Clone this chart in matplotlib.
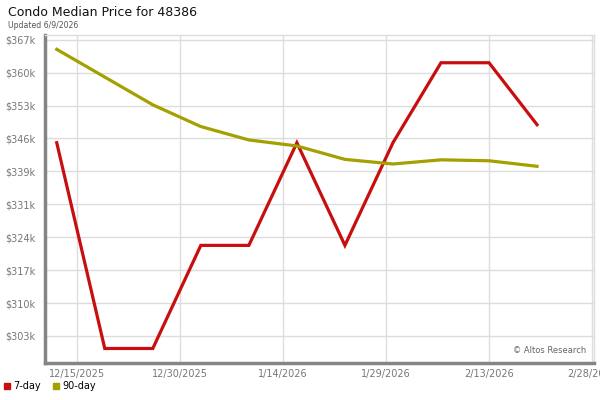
import matplotlib
matplotlib.use("Agg")
import matplotlib.pyplot as plt
import matplotlib.dates as mdates
from matplotlib.lines import Line2D
import pandas as pd

# ---- data ----
dates = ["2025-12-12", "2025-12-19", "2025-12-26", "2026-01-02", "2026-01-09",
         "2026-01-16", "2026-01-23", "2026-01-30", "2026-02-06", "2026-02-13",
         "2026-02-20"]
seven_day = [344.8, 300.3, 300.3, 322.6, 322.6, 344.8, 322.6, 344.8, 362.1, 362.1, 348.7]
ninety_day = [365.0, 359.0, 353.0, 348.3, 345.4, 344.1, 341.2, 340.2, 341.1, 340.9, 339.7]

y_tick_values = [303.0, 310.12, 317.24, 324.36, 331.48, 338.6, 345.72, 352.84, 359.96, 367.08]
y_tick_labels = ["$303k", "$310k", "$317k", "$324k", "$331k", "$339k", "$346k", "$353k", "$360k", "$367k"]
x_tick_dates = ["2025-12-15", "2025-12-30", "2026-01-14", "2026-01-29", "2026-02-13", "2026-02-28"]
x_tick_labels = ["12/15/2025", "12/30/2025", "1/14/2026", "1/29/2026", "2/13/2026", "2/28/2026"]

title = "Condo Median Price for 48386"
subtitle = "Updated 6/9/2026"
credit = "\u00a9 Altos Research"

RED = "#c80e0e"
OLIVE = "#a3a000"
GRAY_TXT = "#777777"

d = pd.to_datetime(dates)
xt = pd.to_datetime(x_tick_dates)

fig = plt.figure(figsize=(6, 4), dpi=100)
ax = fig.add_axes([45/600, 1-363/400, (594-45)/600, (363-35)/400])

ax.plot(d, seven_day, color=RED, lw=2.3, solid_joinstyle="miter", zorder=3)
ax.plot(d, ninety_day, color=OLIVE, lw=2.3, zorder=3)

x0 = mdates.date2num(xt[0]) - 4.71
x1 = mdates.date2num(xt[-1]) + 0.3
ax.set_xlim(x0, x1)
ax.set_ylim(297.16, 368.1)

ax.set_yticks(y_tick_values)
ax.set_yticklabels(y_tick_labels)
ax.set_xticks(mdates.date2num(xt))
ax.set_xticklabels(x_tick_labels)

ax.grid(True, color="#dddddd", lw=1)
ax.set_axisbelow(True)
ax.tick_params(length=0, labelsize=7, labelcolor=GRAY_TXT)
ax.tick_params(axis="y", pad=7)
ax.tick_params(axis="x", pad=4)

for s in ["top", "right"]:
    ax.spines[s].set_color("#dddddd")
    ax.spines[s].set_linewidth(1)
for s in ["left", "bottom"]:
    ax.spines[s].set_color("#858585")
    ax.spines[s].set_linewidth(2.5)

ax.text(0.985, 0.025, credit, transform=ax.transAxes, ha="right", va="bottom",
        fontsize=6, color="#666666")

fig.text(8/600, 1-12/400, title, fontsize=9, color="#111111", va="center", ha="left")
fig.text(8/600, 1-25/400, subtitle, fontsize=5.6, color="#555555", va="center", ha="left")

handles = [Line2D([], [], marker="s", ls="none", color=RED, markersize=4.5),
           Line2D([], [], marker="s", ls="none", color=OLIVE, markersize=4.5)]
fig.legend(handles, ["7-day", "90-day"], loc="center left",
           bbox_to_anchor=(0.0, 1-386/400), ncol=2, frameon=False, fontsize=7,
           handletextpad=0.2, columnspacing=1.0, handlelength=1.0, borderaxespad=0,
           borderpad=0.2)

fig.savefig("out.png", dpi=100)
